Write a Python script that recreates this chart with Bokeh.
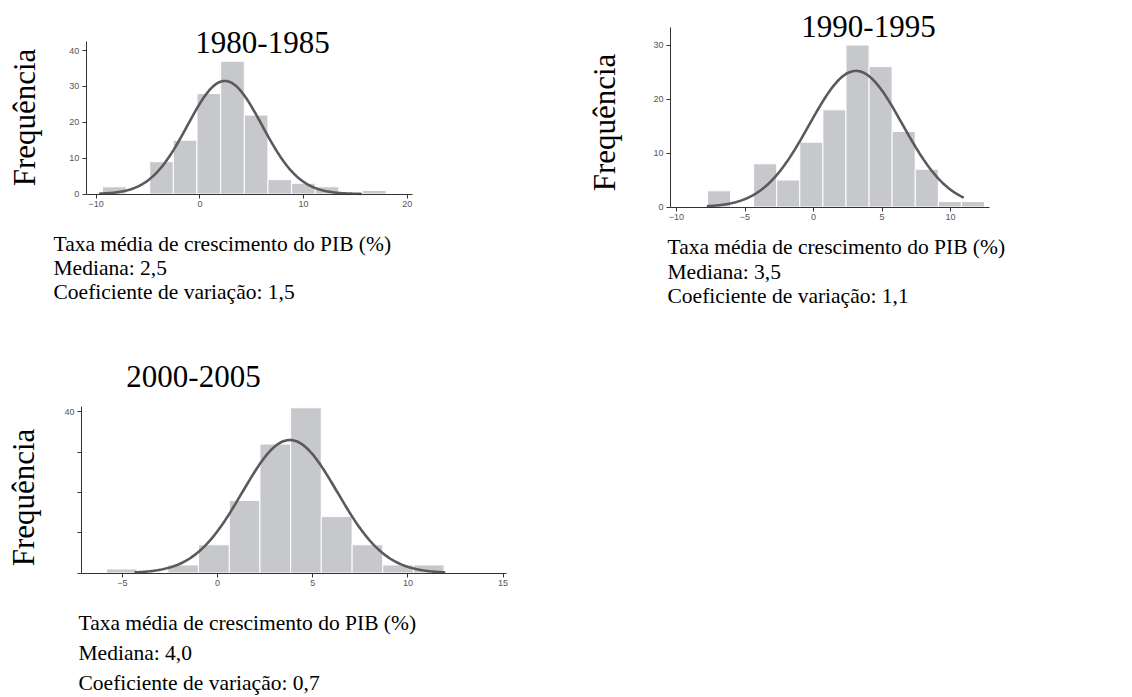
import numpy as np
from bokeh.plotting import figure
from bokeh.layouts import column, row
from bokeh.models import Label, FixedTicker, Range1d
from bokeh.embed import file_html
from bokeh.resources import INLINE

# ---------------- data ----------------
titles = ["1980-1985", "1990-1995", "2000-2005"]
y_label = "Frequência"
x_caption = "Taxa média de crescimento do PIB (%)"
medians = ["Mediana: 2,5", "Mediana: 3,5", "Mediana: 4,0"]
coefs = ["Coeficiente de variação: 1,5", "Coeficiente de variação: 1,1", "Coeficiente de variação: 0,7"]

edges_80 = [-9.4, -7.12, -4.84, -2.56, -0.28, 2.0, 4.28, 6.56, 8.84, 11.12, 13.4, 15.68, 17.96]
counts_80 = [2, 0, 9, 15, 28, 37, 22, 4, 3, 2, 0, 1]
edges_90 = [-7.74, -6.055, -4.37, -2.685, -1.0, 0.685, 2.37, 4.055, 5.74, 7.425, 9.11, 10.795, 12.48]
counts_90 = [3, 0, 8, 5, 12, 18, 30, 26, 14, 7, 1, 1]
edges_00 = [-5.83, -4.22, -2.61, -1.0, 0.62, 2.23, 3.84, 5.45, 7.07, 8.68, 10.29, 11.9]
counts_00 = [1, 0, 2, 7, 18, 32, 41, 14, 7, 2, 2]

# fitted normal curves: mean, sd, peak height, drawn span
fit_80 = dict(mean=2.4, sd=3.6, peak=31.5, lo=-9.6, hi=15.5)
fit_90 = dict(mean=3.1, sd=3.4, peak=25.2, lo=-7.7, hi=10.9)
fit_00 = dict(mean=3.8, sd=2.5, peak=33.0, lo=-4.3, hi=11.9)

xticks_80 = [-10, 0, 10, 20]
yticks_80 = [0, 10, 20, 30, 40]
xticks_90 = [-10, -5, 0, 5, 10]
yticks_90 = [0, 10, 20, 30]
xticks_00 = [-5, 0, 5, 10, 15]
yticks_00 = [0, 10, 20, 30, 40]
ylabels_00 = {0: "", 10: "", 20: "", 30: "", 40: "40"}

# axis extents (data units)
xaxis_80, yaxis_80 = (-10.96, 20.48), (0, 42.5)
xaxis_90, yaxis_90 = (-10.44, 12.85), (0, 33.3)
xaxis_00, yaxis_00 = (-7.14, 15.2), (0, 41.2)

BAR = "#c7c8cb"
CURVE = "#5a5a5a"
AXIS = "#333333"
SERIF = "Liberation Serif"


def panel(edges, counts, fit, xt, yt, xaxis_b, yaxis_b, W, H,
          x_at0, px_x, y_at0, px_y,
          title, title_xy, ylab_xy, text_x, text_ys, median, coef, ylab_over=None):
    # whole canvas is the frame; axes are drawn at fixed data locations
    x0 = -x_at0 / px_x
    x1 = x0 + W / px_x
    y1 = y_at0 / px_y
    y0 = y1 - H / px_y
    p = figure(width=W, height=H, x_range=Range1d(x0, x1), y_range=Range1d(y0, y1),
               output_backend="svg", toolbar_location=None, title=None,
               min_border=0, min_border_left=0, min_border_right=0,
               min_border_top=0, min_border_bottom=0)
    p.outline_line_color = None
    p.xgrid.visible = False
    p.ygrid.visible = False
    p.background_fill_color = "white"
    p.border_fill_color = "white"

    left = [edges[i] for i in range(len(counts)) if counts[i] > 0]
    right = [edges[i + 1] for i in range(len(counts)) if counts[i] > 0]
    top = [c for c in counts if c > 0]
    p.quad(left=left, right=right, top=top, bottom=0, fill_color=BAR,
           line_color="white", line_width=1)

    xs = np.linspace(fit["lo"], fit["hi"], 300)
    ys = fit["peak"] * np.exp(-0.5 * ((xs - fit["mean"]) / fit["sd"]) ** 2)
    p.line(xs, ys, line_color=CURVE, line_width=2.6, line_cap="round")

    xa = p.xaxis[0]
    ya = p.yaxis[0]
    xa.fixed_location = 0
    xa.bounds = xaxis_b
    ya.fixed_location = xaxis_b[0]
    ya.bounds = yaxis_b
    xa.ticker = FixedTicker(ticks=xt)
    ya.ticker = FixedTicker(ticks=yt)
    if ylab_over:
        ya.major_label_overrides = ylab_over
    for ax in (xa, ya):
        ax.axis_line_color = AXIS
        ax.axis_line_width = 1
        ax.major_tick_line_color = AXIS
        ax.minor_tick_line_color = None
        ax.major_tick_in = 0
        ax.major_tick_out = 4
        ax.major_label_text_font = "Liberation Sans"
        ax.major_label_text_font_size = "9px"
        ax.major_label_text_color = "#555555"
        ax.major_label_standoff = 3

    p.add_layout(Label(x=title_xy[0], y=title_xy[1], x_units="canvas", y_units="canvas",
                       text=title, text_font=SERIF, text_font_size="31px",
                       text_align="center", text_baseline="middle", text_color="black"))
    p.add_layout(Label(x=ylab_xy[0], y=ylab_xy[1], x_units="canvas", y_units="canvas",
                       text=y_label, text_font=SERIF, text_font_size="31px", angle=np.pi / 2,
                       text_align="center", text_baseline="middle", text_color="black"))
    for t, yy in zip([x_caption, median, coef], text_ys):
        p.add_layout(Label(x=text_x, y=yy, x_units="canvas", y_units="canvas",
                           text=t, text_font=SERIF, text_font_size="21.5px",
                           text_align="left", text_baseline="middle", text_color="black"))
    return p


p1 = panel(edges_80, counts_80, fit_80, xticks_80, yticks_80, xaxis_80, yaxis_80, 566, 338,
           95.7 + 10 * 10.37, 10.37, 193.5, 3.5875,
           titles[0], (262, 42), (24, 117), 53, (243, 267, 291), medians[0], coefs[0])
p2 = panel(edges_90, counts_90, fit_90, xticks_90, yticks_90, xaxis_90, yaxis_90, 566, 338,
           110 + 10 * 13.7, 13.7, 206.5, 5.4,
           titles[1], (302, 26), (38, 122), 101, (246, 271, 295), medians[1], coefs[1])
p3 = panel(edges_00, counts_00, fit_00, xticks_00, yticks_00, xaxis_00, yaxis_00, 566, 357,
           217, 19.04, 234.5, 4.03,
           titles[2], (193, 38), (23, 159), 78, (284, 314, 344), medians[2], coefs[2],
           ylab_over=ylabels_00)

layout = column(row(p1, p2), p3)
open("out.html", "w").write(file_html(layout, INLINE))
